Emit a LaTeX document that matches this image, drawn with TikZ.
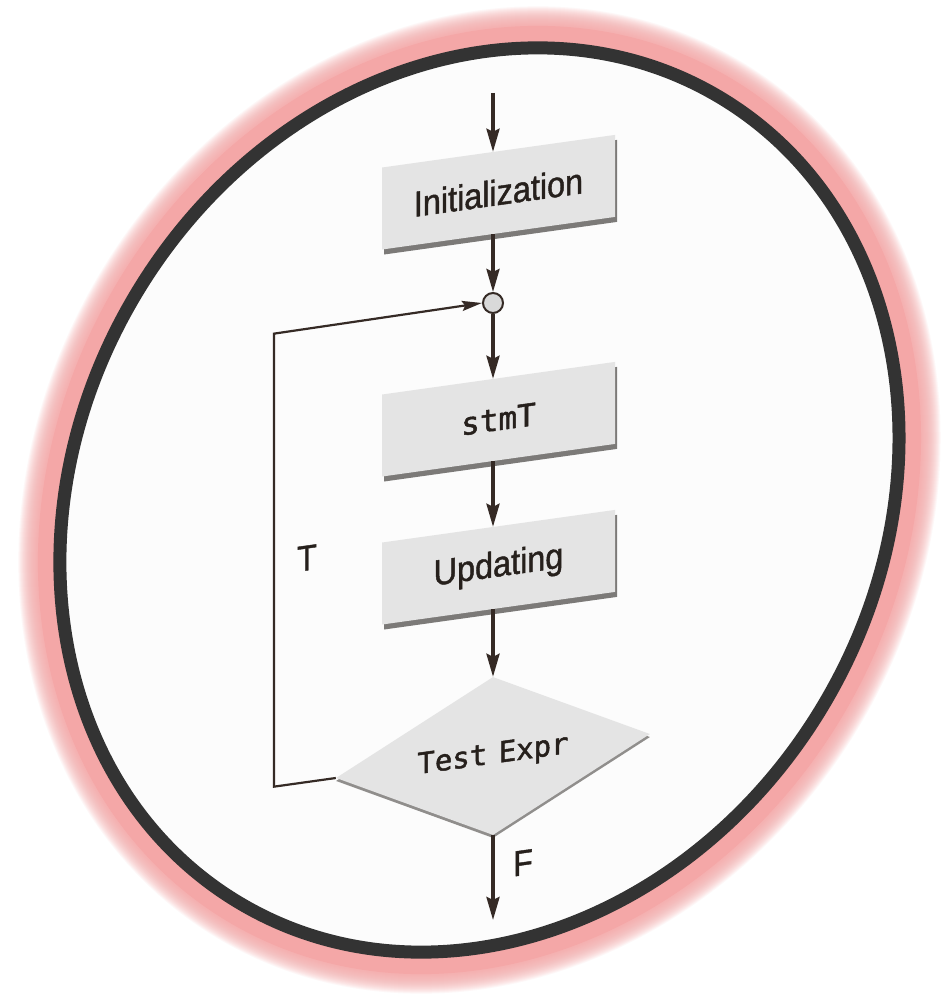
\documentclass[tikz,border=0pt]{standalone}
\usepackage{fontspec}
\newfontfamily\labelfont{Liberation Sans}[FakeStretch=0.9, FakeBold=1.2]
\newfontfamily\codefont{DejaVu Sans Mono}[FakeBold=1.6]
\usetikzlibrary{arrows.meta,shapes.geometric,shadows}
\definecolor{ink}{HTML}{26201C}
\definecolor{flowline}{HTML}{352A25}
\definecolor{boxfill}{HTML}{E4E4E4}
\definecolor{boxside}{HTML}{7C7A78}
\definecolor{rim}{HTML}{333333}
\definecolor{glow}{HTML}{F4A7A7}
\definecolor{paper}{HTML}{FCFCFC}
\begin{document}
\begin{tikzpicture}[x=1pt,y=1pt,
  stepbox/.style={rectangle, fill=boxfill, minimum width=233pt, minimum height=82pt,
    inner sep=0pt, transform shape, text=ink,
    drop shadow={shadow xshift=2pt, shadow yshift=-5pt, opacity=1, fill=boxside}},
  decision/.style={diamond, aspect=1.99, minimum width=314pt, minimum height=158pt,
    inner sep=0pt, fill=boxfill, transform shape, text=ink,
    drop shadow={shadow xshift=0pt, shadow yshift=-3pt, opacity=1, fill=boxside!85}},
  junction/.style={circle, minimum size=20pt, inner sep=0pt, fill=gray!30,
    draw=flowline, line width=2pt},
  lbl/.style={transform shape, text=ink, inner sep=0pt,
    font=\labelfont\fontsize{36}{40}\selectfont},
  arr/.style={line width=3.4pt, draw=flowline, -{Stealth[length=23pt, width=13pt, inset=3pt]}},
  looparr/.style={line width=2.2pt, draw=flowline, -{Stealth[length=20pt, width=10pt, inset=3pt]}},
]
\useasboundingbox (0,0) rectangle (948,1003);
\fill[white] (0,0) rectangle (948,1003);

% tilted frame with a soft pink halo
\coordinate (c) at (479.5,503);
\begin{scope}[rotate around={-30.8:(c)}]
  \foreach \w in {83,81,...,47}
    \draw[glow, line width=\w pt, opacity=0.09] (c) ellipse [x radius=400.5, y radius=469];
  \draw[glow, line width=44pt] (c) ellipse [x radius=400.5, y radius=469];
  \draw[rim, line width=13pt, fill=paper] (c) ellipse [x radius=400.5, y radius=469];
\end{scope}

% the loop flowchart, drawn on a slanted plane
\begin{scope}[shift={(493,0)}, yslant=0.14]
  \coordinate (top) at (0,910);
  \node[stepbox] (init) at (5.5,810) {\labelfont\fontsize{36}{40}\selectfont Initialization};
  \node[junction] (j) at (0,700) {};
  \node[stepbox] (stm) at (5.5,583) {\codefont\fontsize{31}{34}\selectfont stmT};
  \node[stepbox] (upd) at (5.5,435) {\labelfont\fontsize{36}{40}\selectfont Updating};
  \node[decision] (d) at (0,247) {\codefont\fontsize{29}{32}\selectfont Test\hspace{-6pt} Expr};
  \coordinate (out) at (0,83);
  \coordinate (lb) at (-219,247);
  \coordinate (lt) at (-219,700);

  \draw[arr] (top) -- (top |- init.north);
  \draw[arr] (j |- init.south) -- (j.north);
  \draw[arr] (j.south) -- (j |- stm.north);
  \draw[arr] (j |- stm.south) -- (j |- upd.north);
  \draw[arr] (j |- upd.south) -- (d.north);
  \draw[arr] (d.south) -- (out);
  \draw[looparr] (d.west) -- (lb) -- (lt) -- (j.west);

  \node[lbl] (tl) at (-186,471) {T};
  \node[lbl] (fl) at (30,136) {F};
\end{scope}
\end{tikzpicture}
\end{document}
